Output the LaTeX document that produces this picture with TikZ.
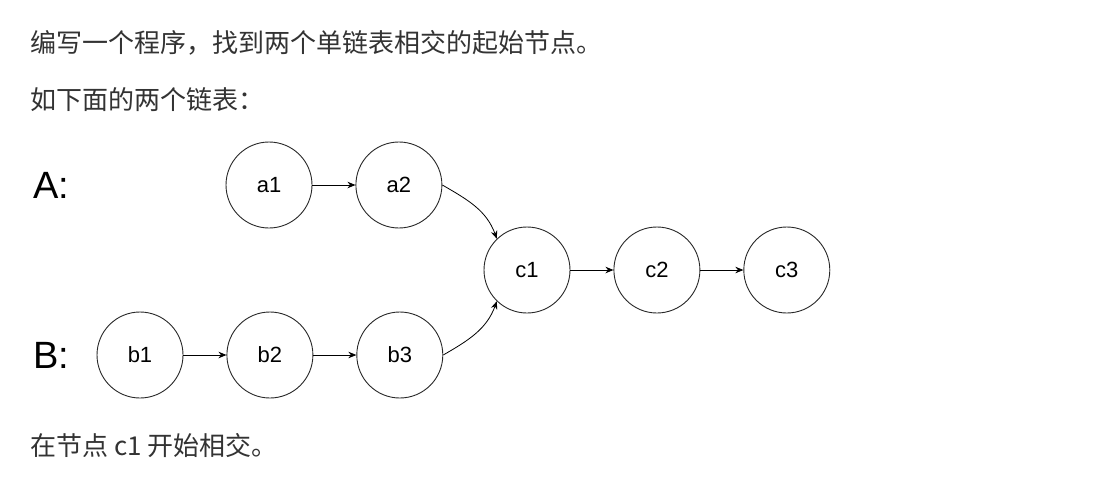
\documentclass[tikz,border=0pt]{standalone}
\usepackage{fontspec}
\setmainfont{Liberation Sans}
\newfontfamily\cjk{Noto Sans CJK SC}
\usepackage{tikz}
\usetikzlibrary{arrows.meta,positioning}
\definecolor{txtgray}{RGB}{51,51,51}
\definecolor{linegray}{RGB}{40,40,40}

\begin{document}
\begin{tikzpicture}[x=1pt, y=-1pt,
  lnode/.style={draw=linegray, circle, minimum size=86pt, inner sep=0pt, line width=0.9pt,
                font=\fontsize{22}{26}\selectfont, text=black},
  para/.style={anchor=west, inner sep=0pt, text=txtgray, font=\cjk\fontsize{26}{30}\selectfont},
  head/.style={anchor=west, inner sep=0pt, font=\fontsize{38}{42}\selectfont},
  arr/.style={-{Stealth[length=8pt, width=6.5pt]}, draw=black, line width=0.8pt},
  node distance=43pt]
  \useasboundingbox[fill=white] (0,0) rectangle (1102,482);
  \node[para] (t1) at (30,43) {编写一个程序，找到两个单链表相交的起始节点。};
  \node[para] (t2) at (30,100) {如下面的两个链表：};
  \node[head] (la) at (33,185) {A:};
  \node[head] (lb) at (33,355) {B:};
  \node[lnode] (a1) at (269,185) {a1};
  \node[lnode, right=of a1] (a2) {a2};
  \node[lnode] (b1) at (140,355) {b1};
  \node[lnode, right=of b1] (b2) {b2};
  \node[lnode, right=of b2] (b3) {b3};
  \node[lnode] (c1) at (527,270) {c1};
  \node[lnode, right=of c1] (c2) {c2};
  \node[lnode, right=of c2] (c3) {c3};
  \draw[arr] (a1) -- (a2);
  \draw[arr] (b1) -- (b2); \draw[arr] (b2) -- (b3);
  \draw[arr] (c1) -- (c2); \draw[arr] (c2) -- (c3);
  \draw[arr] (a2.east) to[out=-30, in=110] (c1.134);
  \draw[arr] (b3.east) to[out=30, in=250] (c1.226);
  \node[para] (t3) at (30,446) {在节点 c1 开始相交。};
\end{tikzpicture}
\end{document}
